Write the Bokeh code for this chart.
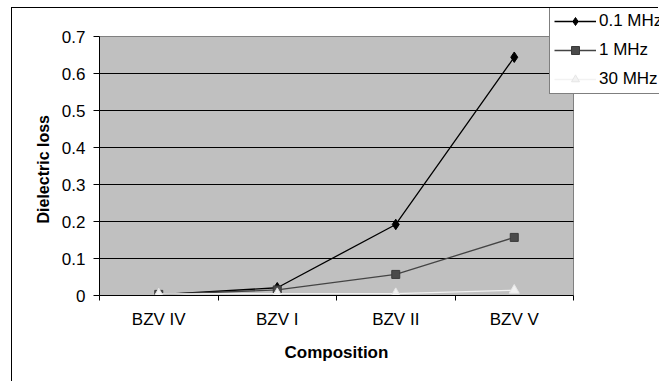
from bokeh.embed import file_html
from bokeh.models import FixedTicker, Legend, LegendItem, NumeralTickFormatter, Title
from bokeh.plotting import figure
from bokeh.resources import INLINE

# Dielectric loss per composition at three measuring frequencies
categories = ["BZV IV", "BZV I", "BZV II", "BZV V"]
loss_01mhz = [0.002, 0.021, 0.192, 0.644]
loss_1mhz = [0.003, 0.015, 0.057, 0.157]
loss_30mhz = [0.004, 0.005, 0.005, 0.014]
y_ticks = [0, 0.1, 0.2, 0.3, 0.4, 0.5, 0.6, 0.7]
x_title = "Composition"
y_title = "Dielectric loss"

FONT = "Liberation Sans"

# categories sit in the middle of unit-wide slots; slot edges carry the tick marks
n = len(categories)
x_pos = [i + 0.5 for i in range(n)]
x_edges = list(range(n + 1))
y_max = y_ticks[-1]

# The frame reaches up to the chart's top edge and out to its right edge so the
# legend can sit there; the grey plot area is drawn as a box over [0, n] x [0, y_max].
PLOT_W, PLOT_H = 474, 259          # plot area in pixels
FRAME_W, FRAME_H = 560, 287        # frame in pixels
x_end = n * FRAME_W / PLOT_W
y_end = y_max * FRAME_H / PLOT_H

p = figure(
    width=647, height=374,
    x_range=(0, x_end), y_range=(0, y_end),
    min_border_left=87, min_border_right=0,
    min_border_top=0, min_border_bottom=87,
    output_backend="svg", toolbar_location=None,
    background_fill_color="white", border_fill_color="white",
    outline_line_color=None,
)
p.styles = {
    "margin-left": "11px", "margin-top": "7px",
    "border-left": "1px solid black", "border-top": "1px solid black",
}

# grey plot area with black horizontal gridlines
p.quad(left=0, right=n, bottom=0, top=y_max,
       fill_color="#C0C0C0", line_color="#808080", line_width=1)
grid_y = y_ticks[1:-1]
p.segment(x0=[0] * len(grid_y), x1=[n] * len(grid_y), y0=grid_y, y1=grid_y,
          line_color="black", line_width=1)
p.grid.visible = False

# x axis: category names centred, tick marks on slot boundaries
p.xaxis.bounds = (0, n)
p.xaxis.ticker = FixedTicker(ticks=x_pos, minor_ticks=x_edges)
p.xaxis.major_label_overrides = {x: c for x, c in zip(x_pos, categories)}
p.xaxis.major_tick_out = 0
p.xaxis.major_tick_in = 0
p.xaxis.minor_tick_out = 5
p.xaxis.minor_tick_in = 0
p.xaxis.minor_tick_line_color = "black"
p.xaxis.major_label_standoff = 9

p.yaxis.bounds = (0, y_max)
p.yaxis.ticker = FixedTicker(ticks=y_ticks, minor_ticks=[])
p.yaxis.formatter = NumeralTickFormatter(format="0.[0]")
p.yaxis.major_tick_out = 6
p.yaxis.major_tick_in = 0
p.yaxis.major_label_standoff = 8

for ax in (p.xaxis, p.yaxis):
    ax.axis_line_color = "black"
    ax.major_tick_line_color = "black"
    ax.major_label_text_font = FONT
    ax.major_label_text_font_size = "17px"
    ax.major_label_text_color = "black"

# axis titles, centred on the plot area rather than on the whole frame
title_style = dict(text_font=FONT, text_font_style="bold",
                   text_color="black", align="left")
p.add_layout(Title(text=y_title, offset=72, standoff=13, text_font_size="16px",
                   **title_style), "left")
p.add_layout(Title(text=x_title, offset=185, standoff=18, text_font_size="17px",
                   **title_style), "below")

# series: 0.1 MHz (black diamonds), 1 MHz (grey squares), 30 MHz (white triangles)
l1 = p.line(x_pos, loss_01mhz, line_color="black", line_width=1.3)
m1 = p.scatter(x_pos, loss_01mhz, marker="diamond", size=10.5,
               fill_color="black", line_color="black")
l2 = p.line(x_pos, loss_1mhz, line_color="#444444", line_width=1.3)
m2 = p.scatter(x_pos, loss_1mhz, marker="square", size=8,
               fill_color="#4a4a4a", line_color="#3a3a3a")
l3 = p.line(x_pos, loss_30mhz, line_color="#F2F2F2", line_width=1.3)
m3 = p.scatter(x_pos, loss_30mhz, marker="triangle", size=10,
               fill_color="#F2F2F2", line_color="#E6E6E6")

# legend box hangs from the top edge of the chart, overlapping the plot area's corner
legend = Legend(
    items=[
        LegendItem(label="0.1 MHz", renderers=[l1, m1]),
        LegendItem(label="1 MHz", renderers=[l2, m2]),
        LegendItem(label="30 MHz", renderers=[l3, m3]),
    ],
    location=(450, 201),
    orientation="vertical",
    margin=0, padding=4, spacing=9,
    glyph_width=42, glyph_height=20, label_height=20, label_standoff=3,
    label_text_font=FONT, label_text_font_size="17px", label_text_color="black",
    border_line_color="black", border_line_width=1,
    background_fill_color="white", background_fill_alpha=1,
)
p.add_layout(legend, "center")

open("out.html", "w").write(file_html(p, INLINE))
